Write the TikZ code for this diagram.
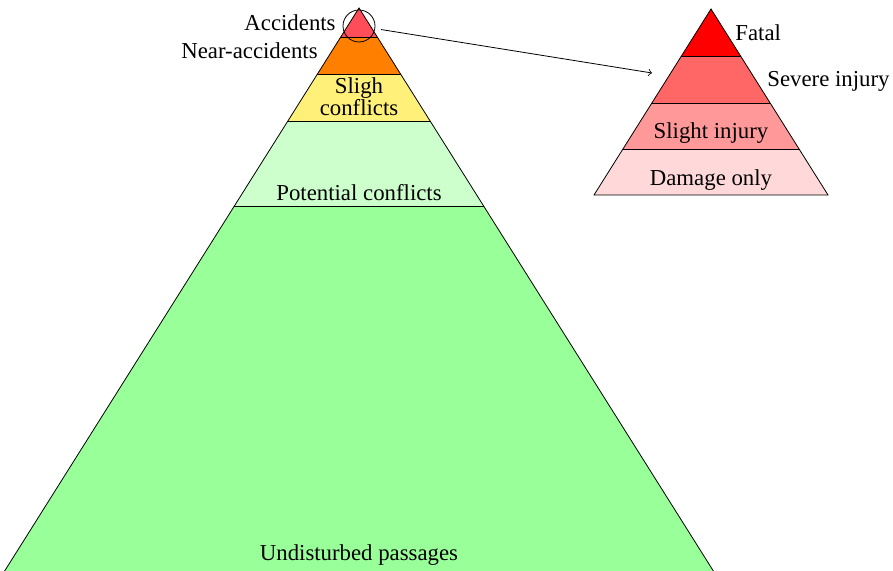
\documentclass[tikz,border=0pt]{standalone}
\usepackage{fontspec}
\setmainfont{Liberation Serif}
\definecolor{accred}{RGB}{255,77,90}
\definecolor{nearorange}{RGB}{255,128,0}
\definecolor{slighyellow}{RGB}{255,240,122}
\definecolor{potgreen}{RGB}{204,255,204}
\definecolor{undgreen}{RGB}{153,255,153}
\definecolor{fatalred}{RGB}{255,0,0}
\definecolor{severered}{RGB}{255,102,102}
\definecolor{slightred}{RGB}{255,153,153}
\definecolor{damagered}{RGB}{255,217,217}
\begin{document}
\begin{tikzpicture}[x=0.5pt, y=-0.5pt,
        lbl/.style={font=\fontsize{11.4}{11.2}\selectfont, inner sep=0pt, align=center}]
            \useasboundingbox (0,0) rectangle (893,571);
            \coordinate (P) at (359,8);
            \coordinate (PL) at (4,572);
            \coordinate (PR) at (714,572);
            \coordinate (Q) at (711,9);
            \coordinate (QL) at (594,195);
            \coordinate (QR) at (828,195);
            
            \begin{scope}
                \clip (P) -- (PL) -- (PR) -- cycle;
                \fill[undgreen] (0,0) rectangle (893,571);
                \fill[potgreen] (0,0) rectangle (893,206);
                \fill[slighyellow] (0,0) rectangle (893,121);
                \fill[nearorange] (0,0) rectangle (893,74);
                \fill[accred] (0,0) rectangle (893,37);
                \foreach \y in {37,74,121,206}
                    \draw (0,\y) -- (893,\y);
            \end{scope}
            \draw (PL) -- (P) -- (PR);
            
            \begin{scope}
                \clip (Q) -- (QL) -- (QR) -- cycle;
                \fill[damagered] (0,0) rectangle (893,195);
                \fill[slightred] (0,0) rectangle (893,149);
                \fill[severered] (0,0) rectangle (893,103);
                \fill[fatalred] (0,0) rectangle (893,56);
                \foreach \y in {56,103,149}
                    \draw (0,\y) -- (893,\y);
            \end{scope}
            \draw (Q) -- (QL) -- (QR) -- cycle;
            
            \node[draw, circle, minimum size=16pt, inner sep=0pt] (zoom) at (359,26) {};
            \coordinate (tip) at (652,73);
            \draw[->, shorten <=3pt] (zoom) -- (tip);
            
            \node[lbl, anchor=east] (acc) at (336,23) {Accidents};
            \node[lbl, anchor=east] (near) at (318,51) {Near-accidents};
            \node[lbl] (sligh) at (359,97) {Sligh\\conflicts};
            \node[lbl] (pot) at (359,193) {Potential conflicts};
            \node[lbl] (und) at (359,555) {Undisturbed passages};
            \node[lbl, anchor=west] (fatal) at (735,33) {Fatal};
            \node[lbl, anchor=west] (severe) at (767,81) {Severe injury};
            \node[lbl] (slight) at (711,133) {Slight injury};
            \node[lbl] (damage) at (711,180) {Damage only};
        \end{tikzpicture}
\end{document}
